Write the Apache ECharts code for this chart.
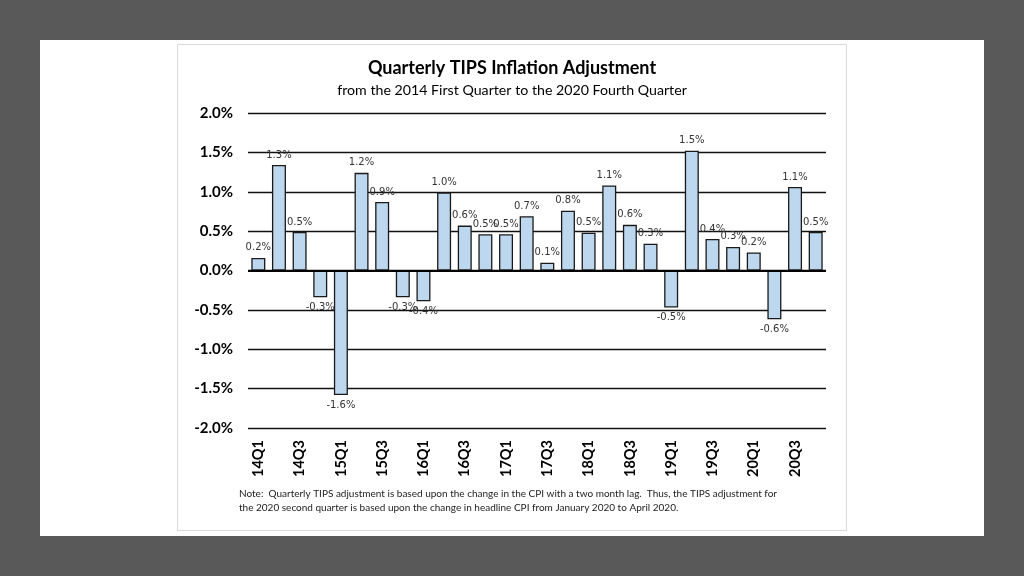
<!DOCTYPE html>
<html>
<head>
<meta charset="utf-8">
<script src="https://cdn.jsdelivr.net/npm/echarts@6/dist/echarts.min.js"></script>
<style>
html,body{margin:0;padding:0;background:#595959;}
#chart{width:1024px;height:576px;}
</style>
</head>
<body>
<div id="chart"></div>
<script>
var categories = ['14Q1','14Q2','14Q3','14Q4','15Q1','15Q2','15Q3','15Q4','16Q1','16Q2','16Q3','16Q4','17Q1','17Q2','17Q3','17Q4','18Q1','18Q2','18Q3','18Q4','19Q1','19Q2','19Q3','19Q4','20Q1','20Q2','20Q3','20Q4'];
var adjustment = [0.16, 1.34, 0.49, -0.34, -1.58, 1.24, 0.87, -0.34, -0.39, 0.99, 0.57, 0.46, 0.46, 0.69, 0.10, 0.76, 0.48, 1.08, 0.58, 0.34, -0.47, 1.52, 0.40, 0.30, 0.23, -0.62, 1.06, 0.49];
var yTicks = [-2.0, -1.5, -1.0, -0.5, 0.0, 0.5, 1.0, 1.5, 2.0];
var titleText = 'Quarterly TIPS Inflation Adjustment';
var subtitleText = 'from the 2014 First Quarter to the 2020 Fourth Quarter';
var noteLines = [
  'Note:  Quarterly TIPS adjustment is based upon the change in the CPI with a two month lag.  Thus, the TIPS adjustment for',
  'the 2020 second quarter is based upon the change in headline CPI from January 2020 to April 2020.'
];

var chart = echarts.init(document.getElementById('chart'));
var option = {
  backgroundColor: '#595959',
  animation: false,
  graphic: [
    {type:'rect', shape:{x:40,y:40,width:944,height:496}, style:{fill:'#ffffff'}, z:-10},
    {type:'rect', shape:{x:177.5,y:44.5,width:669,height:486}, style:{fill:'#ffffff', stroke:'#d9d9d9', lineWidth:1}, z:-9},
    {type:'text', left:239, top:487, style:{text: noteLines.join('\n'), font:'10px Lato', fill:'#222', lineHeight:14}}
  ],
  title: [
    {text: titleText, left:'center', top:54, textStyle:{fontFamily:'Lato', fontWeight:'bold', fontSize:18, color:'#000'}},
    {text: subtitleText, left:'center', top:78, textStyle:{fontFamily:'Lato', fontWeight:'normal', fontSize:14.2, color:'#000'}}
  ],
  grid: {left:248, right:198, top:113, bottom:148, containLabel:false},
  xAxis: {
    type:'category',
    data: categories,
    axisLine:{show:false, onZero:false},
    axisTick:{show:false},
    axisLabel:{interval:1, rotate:90, margin:12, fontFamily:'Lato', fontWeight:'bold', fontSize:14.5, color:'#000'}
  },
  yAxis: {
    type:'value',
    min: yTicks[0],
    max: yTicks[yTicks.length-1],
    interval: 0.5,
    axisLine:{show:false},
    axisTick:{show:false},
    axisLabel:{margin:15, fontFamily:'Lato', fontWeight:'bold', fontSize:15, color:'#000',
      formatter:function(v){return v.toFixed(1)+'%';}},
    splitLine:{show:true, lineStyle:{color:'#111', width:1.3}}
  },
  series: [{
    type:'bar',
    barWidth:14,
    data: adjustment.map(function(v){
      return {value:v, label:{position: v<0 ? 'bottom' : 'top'}};
    }),
    itemStyle:{color:'#BDD7EE', borderColor:'#1a1a1a', borderWidth:1.3},
    label:{show:true, distance:5, fontFamily:'DejaVu Sans', fontSize:10, color:'#333',
      formatter:function(p){return p.value.toFixed(1)+'%';}},
    markLine:{silent:true, symbol:'none', label:{show:false},
      lineStyle:{color:'#000', width:2, type:'solid'},
      data:[{yAxis:0}]}
  }]
};
chart.setOption(option);
</script>
</body>
</html>
